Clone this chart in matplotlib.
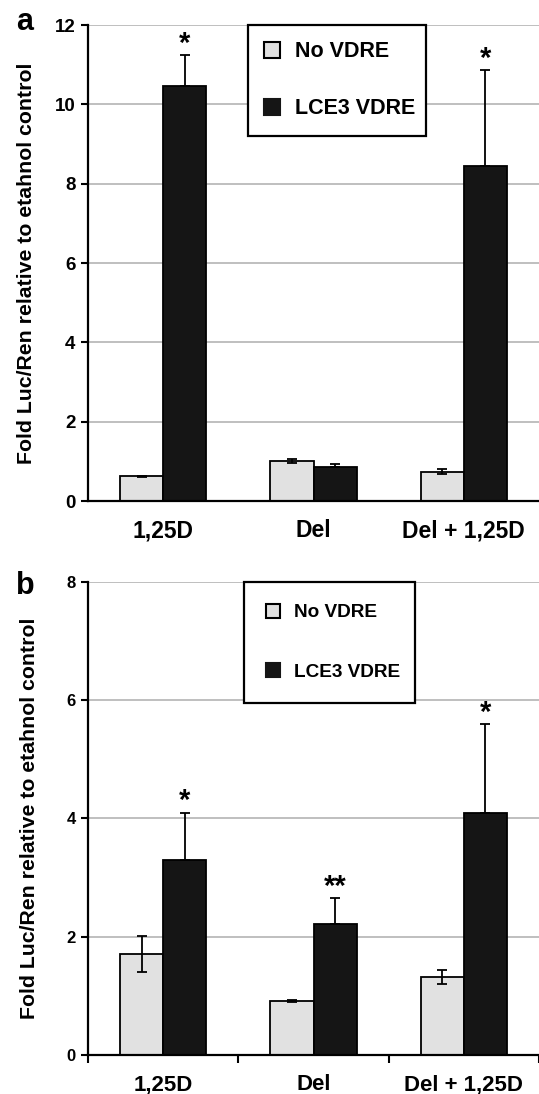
import numpy as np
import matplotlib
matplotlib.use('Agg')
import matplotlib.pyplot as plt
from matplotlib.patches import Patch

plt.rcParams['font.family'] = ['Liberation Sans', 'DejaVu Sans']
plt.rcParams['font.weight'] = 'bold'

# data
categories = ['1,25D', 'Del', 'Del + 1,25D']
series = ['No VDRE', 'LCE3 VDRE']

a_no_vdre = [0.62, 1.01, 0.74]
a_no_vdre_err = [0.02, 0.05, 0.06]
a_lce3 = [10.47, 0.85, 8.45]
a_lce3_err = [0.78, 0.09, 2.42]
a_marks = ['*', '', '*']

b_no_vdre = [1.71, 0.91, 1.32]
b_no_vdre_err = [0.30, 0.02, 0.12]
b_lce3 = [3.29, 2.22, 4.09]
b_lce3_err = [0.81, 0.43, 1.51]
b_marks = ['*', '**', '*']

light = '#e1e1e1'
dark = '#151515'
grid_col = '#b4b4b4'
ylab = 'Fold Luc/Ren relative to etahnol control'

fig = plt.figure(figsize=(5.39, 10.94), dpi=100)
fig.patch.set_facecolor('white')

ax_a = fig.add_axes([0.1633, 0.542, 0.8367, 0.4351])
ax_b = fig.add_axes([0.1633, 0.0357, 0.8367, 0.4324])


def draw_panel(ax, no_vals, no_err, lce_vals, lce_err, marks, ymax,
               ytick_fs, xtick_fs, leg_fs, leg_box, leg_space, leg_pad,
               xticks_between, ylab_x):
    x = np.arange(len(categories))
    w = 0.287
    ax.set_axisbelow(True)
    ax.yaxis.grid(True, color=grid_col, linewidth=1.2)
    ax.bar(x - w / 2, no_vals, w, color=light, edgecolor='black', linewidth=1.3,
           zorder=2)
    ax.bar(x + w / 2, lce_vals, w, color=dark, edgecolor='black', linewidth=1.3,
           zorder=2)
    ax.errorbar(x - w / 2, no_vals, yerr=no_err, fmt='none', ecolor='black',
                elinewidth=1.3, capsize=3.5, capthick=1.3, zorder=3)
    # only the upper half shows above the dark bars
    ax.errorbar(x + w / 2, lce_vals, yerr=[np.zeros(len(lce_err)), lce_err],
                fmt='none', ecolor='black', elinewidth=1.3, capsize=3.5,
                capthick=1.3, zorder=3)
    for xi, v, e, m in zip(x, lce_vals, lce_err, marks):
        if m:
            ax.annotate(m, (xi + w / 2, v + e), xytext=(0, 8),
                        textcoords='offset points', ha='center', va='center',
                        fontsize=21, fontweight='bold')

    ax.set_xlim(-0.5, len(categories) - 0.5)
    ax.set_ylim(0, ymax)
    ax.set_yticks(np.arange(0, ymax + 1, 2))
    ax.tick_params(axis='y', direction='out', length=5, width=1.5,
                   labelsize=ytick_fs, pad=4)
    for lab in ax.get_yticklabels():
        lab.set_fontweight('bold')

    if xticks_between:
        ax.set_xticks(np.arange(-0.5, len(categories), 1.0))
        ax.set_xticklabels([])
        ax.tick_params(axis='x', direction='out', length=6, width=1.5)
        ax.set_xticks(x, minor=True)
        ax.set_xticklabels(categories, minor=True, fontsize=xtick_fs,
                           fontweight='bold')
        ax.tick_params(axis='x', which='minor', length=0, pad=14)
    else:
        ax.set_xticks(x)
        ax.set_xticklabels(categories, fontsize=xtick_fs, fontweight='bold')
        ax.tick_params(axis='x', length=0, pad=13)

    for s in ['top', 'right']:
        ax.spines[s].set_visible(False)
    for s in ['left', 'bottom']:
        ax.spines[s].set_linewidth(1.6)

    ax.set_ylabel(ylab, fontsize=15.3, fontweight='bold')
    ax.yaxis.set_label_coords(ylab_x, 0.5)

    handles = [Patch(facecolor=light, edgecolor='black', linewidth=1.5),
               Patch(facecolor=dark, edgecolor=dark, linewidth=1.5)]
    leg = ax.legend(handles, series, loc='upper left', bbox_to_anchor=leg_box,
                    mode='expand', borderaxespad=0,
                    prop={'weight': 'bold', 'size': leg_fs},
                    frameon=True, fancybox=False, edgecolor='black',
                    framealpha=1, handlelength=0.75, handleheight=0.75,
                    handletextpad=0.7, labelspacing=leg_space,
                    borderpad=leg_pad)
    leg.get_frame().set_linewidth(1.6)


draw_panel(ax_a, a_no_vdre, a_no_vdre_err, a_lce3, a_lce3_err, a_marks, 12,
           13.5, 16.5, 15.5, (0.355, 1.0, 0.395, 0.0), 1.68, 0.75,
           False, -0.115)
draw_panel(ax_b, b_no_vdre, b_no_vdre_err, b_lce3, b_lce3_err, b_marks, 8,
           12, 16, 13.7, (0.346, 1.0, 0.379, 0.0), 2.2, 1.15,
           True, -0.108)

fig.text(25 / 539, 1 - 22 / 1094, 'a', fontsize=22, fontweight='bold',
         ha='center', va='center')
fig.text(25 / 539, 1 - 586 / 1094, 'b', fontsize=22, fontweight='bold',
         ha='center', va='center')

fig.savefig('out.png', dpi=100, facecolor='white')
